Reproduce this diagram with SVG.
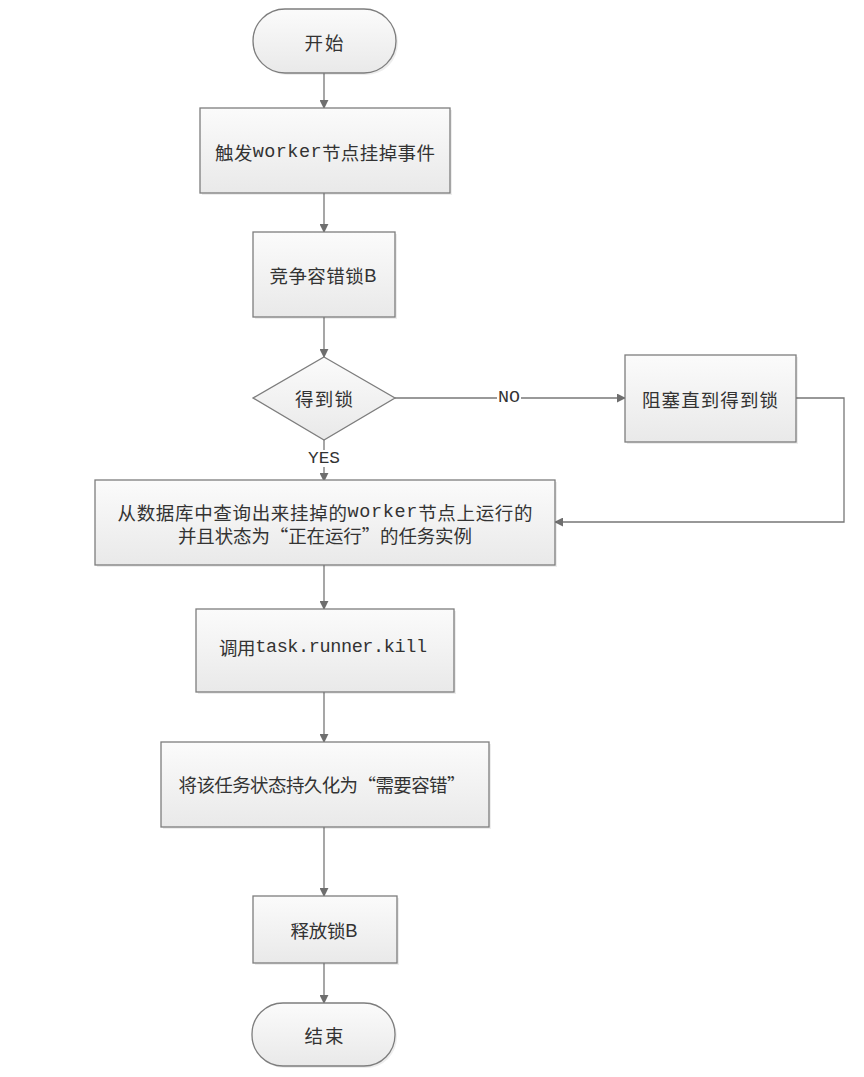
<svg xmlns="http://www.w3.org/2000/svg" width="864" height="1077" viewBox="0 0 864 1077">
<defs>
<linearGradient id="g" x1="0" y1="0" x2="0" y2="1">
<stop offset="0" stop-color="#fbfbfb"/>
<stop offset="1" stop-color="#e9e9e9"/>
</linearGradient>
<marker id="arr" viewBox="0 0 10 10" refX="9" refY="5" markerWidth="9" markerHeight="9" markerUnits="userSpaceOnUse" orient="auto">
<path d="M0,0 L10,5 L0,10 z" fill="#6e6e6e"/>
</marker>
</defs>
<style>
.shape{fill:url(#g);stroke:#7d7d7d;stroke-width:1.3}
.sh{fill:#000;opacity:0.07}
.t{font-family:"Noto Sans CJK SC","Noto Sans",sans-serif;font-size:18.5px;fill:#333;text-anchor:middle;dominant-baseline:central}
.m{font-family:"Liberation Mono",monospace}
.s{font-family:"Liberation Sans",sans-serif}
.lbl{font-family:"Liberation Mono",monospace;font-size:16px;fill:#333;text-anchor:middle;dominant-baseline:central}
.c{fill:none;stroke:#777;stroke-width:1.3}
</style>
<rect width="864" height="1077" fill="#fff"/>
<g id="connectors">
<line class="c" x1="324" y1="73" x2="324" y2="108" marker-end="url(#arr)"/>
<line class="c" x1="324" y1="193" x2="324" y2="232" marker-end="url(#arr)"/>
<line class="c" x1="324" y1="317" x2="324" y2="357" marker-end="url(#arr)"/>
<line class="c" x1="324" y1="440" x2="324" y2="481" marker-end="url(#arr)"/>
<rect x="306" y="450" width="36" height="17" fill="#fff"/>
<text class="lbl" x="324" y="459" textLength="32" lengthAdjust="spacingAndGlyphs">YES</text>
<line class="c" x1="395" y1="398" x2="625" y2="398" marker-end="url(#arr)"/>
<rect x="497" y="390" width="24" height="17" fill="#fff"/>
<text class="lbl" x="509" y="398" textLength="22" lengthAdjust="spacingAndGlyphs">NO</text>
<polyline class="c" points="796,398 844,398 844,522 555,522" marker-end="url(#arr)"/>
<line class="c" x1="324" y1="565" x2="324" y2="609" marker-end="url(#arr)"/>
<line class="c" x1="324" y1="692" x2="324" y2="742" marker-end="url(#arr)"/>
<line class="c" x1="324" y1="827" x2="324" y2="896" marker-end="url(#arr)"/>
<line class="c" x1="324" y1="963" x2="324" y2="1003" marker-end="url(#arr)"/>
</g>
<g id="start">
<rect class="sh" x="255" y="11" width="143" height="64" rx="32"/>
<rect class="shape" x="253" y="9" width="143" height="64" rx="32"/>
<text class="t" x="324" y="42" textLength="39">开始</text>
</g>
<g id="trigger">
<rect class="sh" x="202" y="110" width="250" height="85"/>
<rect class="shape" x="200" y="108" width="250" height="85"/>
<text class="t" x="325" y="152" textLength="220">触发<tspan class="m">worker</tspan>节点挂掉事件</text>
</g>
<g id="compete">
<rect class="sh" x="255" y="234" width="142" height="85"/>
<rect class="shape" x="253" y="232" width="142" height="85"/>
<text class="t" x="323" y="275" textLength="107">竞争容错锁<tspan class="s">B</tspan></text>
</g>
<g id="decision">
<polygon class="shape" points="324,357 395,398 324,440 253,398"/>
<text class="t" x="324" y="398" textLength="58">得到锁</text>
</g>
<g id="block">
<rect class="sh" x="627" y="357" width="171" height="87"/>
<rect class="shape" x="625" y="355" width="171" height="87"/>
<text class="t" x="710" y="399" textLength="136">阻塞直到得到锁</text>
</g>
<g id="query">
<rect class="sh" x="97" y="482" width="460" height="85"/>
<rect class="shape" x="95" y="480" width="460" height="85"/>
<text class="t" x="325" y="512" textLength="415">从数据库中查询出来挂掉的<tspan class="m">worker</tspan>节点上运行的</text>
<text class="t" x="325" y="535" textLength="294">并且状态为“正在运行”的任务实例</text>
</g>
<g id="kill">
<rect class="sh" x="198" y="611" width="258" height="83"/>
<rect class="shape" x="196" y="609" width="258" height="83"/>
<text class="t" x="323" y="647" textLength="208">调用<tspan class="m">task.runner.kill</tspan></text>
</g>
<g id="persist">
<rect class="sh" x="163" y="744" width="328" height="85"/>
<rect class="shape" x="161" y="742" width="328" height="85"/>
<text class="t" x="322" y="784" textLength="287">将该任务状态持久化为“需要容错”</text>
</g>
<g id="release">
<rect class="sh" x="255" y="898" width="144" height="67"/>
<rect class="shape" x="253" y="896" width="144" height="67"/>
<text class="t" x="324" y="930" textLength="67">释放锁<tspan class="s">B</tspan></text>
</g>
<g id="end">
<rect class="sh" x="254" y="1005" width="143" height="63" rx="31"/>
<rect class="shape" x="252" y="1003" width="143" height="63" rx="31"/>
<text class="t" x="324" y="1035" textLength="39">结束</text>
</g>
</svg>
